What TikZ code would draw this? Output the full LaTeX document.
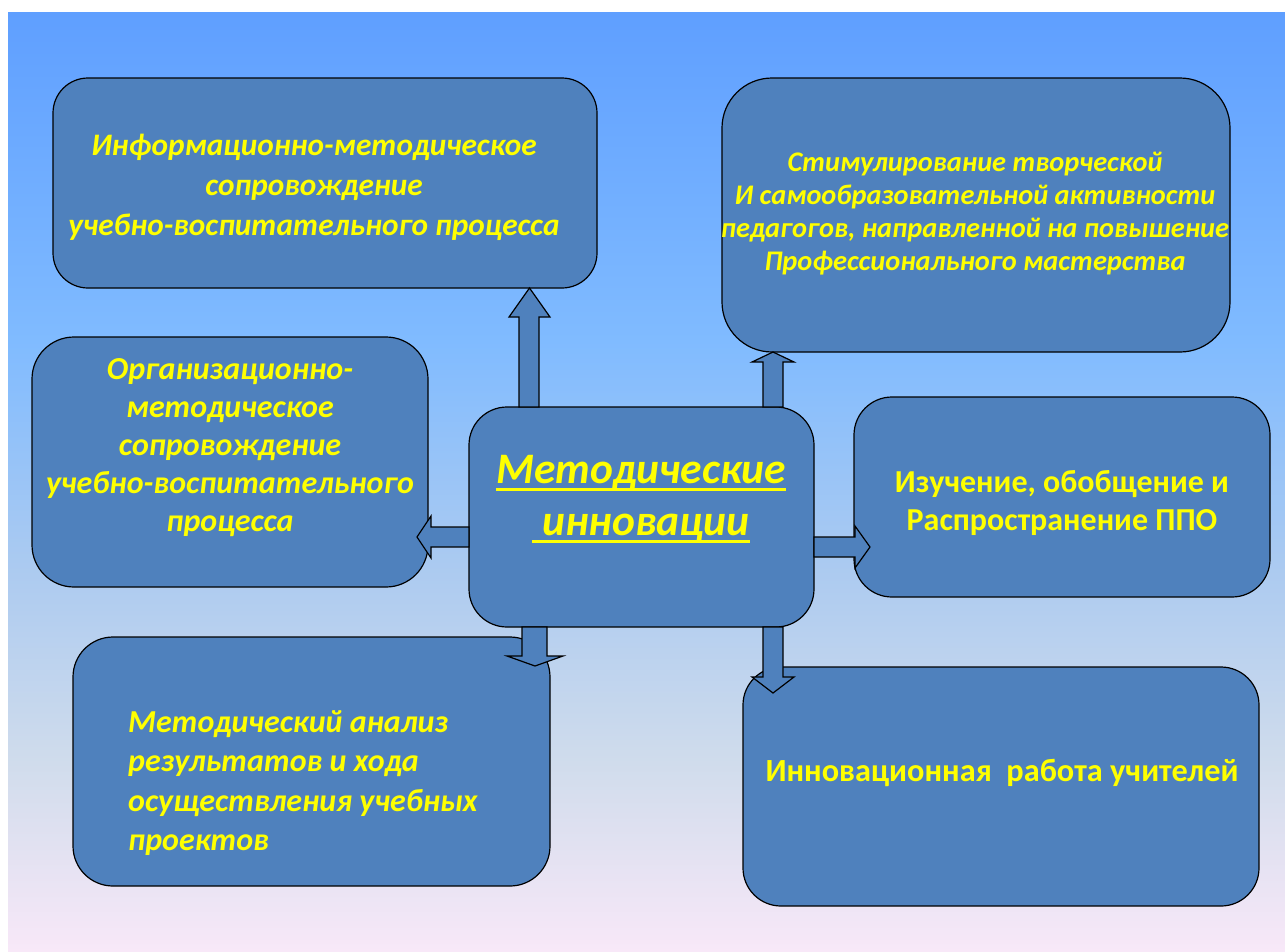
\documentclass[tikz,border=0pt]{standalone}
\usepackage{fontspec}
\setmainfont{Carlito}
\usetikzlibrary{calc}
\newcommand{\myul}[1]{\setbox0\hbox{#1}\rlap{\vrule height -4pt depth 7pt width \wd0}\box0}
\definecolor{boxblue}{HTML}{4F81BD}
\definecolor{txtyellow}{HTML}{FFFF00}
\definecolor{bga}{HTML}{5F9FFF}
\definecolor{bgb}{HTML}{80BBFF}
\definecolor{bgc}{HTML}{ADCBF0}
\definecolor{bgd}{HTML}{D0DCEC}
\definecolor{bge}{HTML}{F8E8F8}
\pgfdeclareverticalshading{bgshade}{100bp}{color(0bp)=(bge); color(25bp)=(bge); color(35bp)=(bgd); color(45bp)=(bgc); color(57.5bp)=(bgb); color(75bp)=(bga); color(100bp)=(bga)}
\tikzset{
  box/.style={draw=black, line width=1.2pt, fill=boxblue, inner sep=0pt, outer sep=0pt},
  blk/.style={draw=black, line width=1.2pt, fill=boxblue, line join=miter},
  ti/.style={text=txtyellow, align=center, inner sep=0pt, font=\bfseries\itshape},
  tu/.style={text=txtyellow, align=center, inner sep=0pt, font=\bfseries},
}
\begin{document}
\begin{tikzpicture}[x=1pt,y=-1pt]
\fill[white] (0,0) rectangle (1285,951);
\shade[shading=bgshade] (8,12) rectangle (1285,951);
% boxes
\node[box, minimum width=544pt, minimum height=210pt, rounded corners=35pt] (TL) at (325,183) {};
\node[box, minimum width=508pt, minimum height=274pt, rounded corners=50pt] (TR) at (976,215) {};
\node[box, minimum width=396pt, minimum height=250pt, rounded corners=42pt] (LM) at (230,462) {};
\node[box, minimum width=416pt, minimum height=200pt, rounded corners=38pt] (RM) at (1062,497) {};
\node[box, minimum width=477pt, minimum height=249pt, rounded corners=40pt] (BL) at (311.5,761.5) {};
\node[box, minimum width=516pt, minimum height=239pt, rounded corners=38pt] (BR) at (1001,786.5) {};
\node[box, minimum width=345pt, minimum height=220pt, rounded corners=38pt] (C) at (641.5,517) {};
% block arrows
\draw[blk] (519,0 |- C.north) -- (519,317) -- (509,317) -- (529.5,0 |- TL.south) -- (550,317) -- (539,317) -- (539,0 |- C.north) -- cycle;
\draw[blk] (763,0 |- C.north) -- (763,362) -- (752,362) -- (773,0 |- TR.south) -- (794,362) -- (783,362) -- (783,0 |- C.north) -- cycle;
\draw[blk] (C.west |- 0,527) -- (431,527) -- (431,516) -- (417,537) -- (431,558) -- (431,547) -- (C.west |- 0,547) -- cycle;
\draw[blk] (C.east |- 0,537) -- (855,537) -- (855,526) -- (870,547) -- (855,568) -- (855,557) -- (C.east |- 0,557) -- cycle;
\draw[blk] (522,0 |- C.south) -- (522,656) -- (507,656) -- (535,666) -- (563,656) -- (547,656) -- (547,0 |- C.south) -- cycle;
\draw[blk] (763,0 |- C.south) -- (763,677) -- (752,677) -- (773,693) -- (794,677) -- (783,677) -- (783,0 |- C.south) -- cycle;
% texts
\node[ti, font=\fontsize{31.3}{40}\selectfont\bfseries\itshape] (tTL) at (314,187) {Информационно-методическое\\сопровождение\\учебно-воспитательного процесса};
\node[ti, font=\fontsize{28.4}{33}\selectfont\bfseries\itshape] (tTR) at (975,214) {Стимулирование творческой\\И самообразовательной активности\\педагогов, направленной на повышение\\Профессионального мастерства};
\node[ti, font=\fontsize{32}{38}\selectfont\bfseries\itshape] (tLM) at (230,448) {Организационно-\\методическое\\сопровождение\\учебно-воспитательного\\процесса};
\node[ti, font=\fontsize{43.5}{52}\selectfont\bfseries\itshape] (tC) at (641,499) {\myul{Методические}\\\myul{\ инновации}};
\node[tu, font=\fontsize{32}{38}\selectfont\bfseries] (tRM) at (1062,503) {Изучение, обобщение и\\Распространение ППО};
\node[ti, align=left, anchor=west, font=\fontsize{32}{39.5}\selectfont\bfseries\itshape] (tBL) at (128,783) {Методический анализ\\результатов и хода\\осуществления учебных\\проектов};
\node[tu, font=\fontsize{32.3}{39}\selectfont\bfseries] (tBR) at (1002,773) {Инновационная~ работа учителей};
\end{tikzpicture}
\end{document}
